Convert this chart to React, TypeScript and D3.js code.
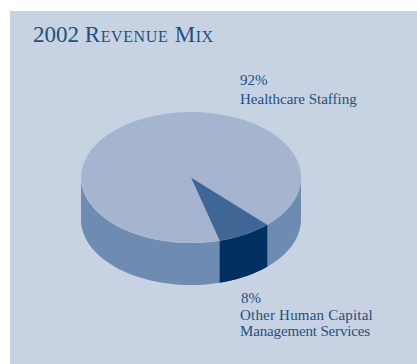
import React from "react";
import * as d3 from "d3";

const categories = ["Other Human Capital Management Services", "Healthcare Staffing"];
const shares = [8, 92];
const shareLabels = ["8%", "92%"];
const title = ["2002 ", "Revenue Mix"];
const otherLabelLines = ["Other Human Capital", "Management Services"];

const WIDTH = 417;
const HEIGHT = 364;
const CX = 191;
const CY = 177.5;
const RX = 110;
const RY = 65.5;
const DEPTH = 42;
const TEXT = "#1f5080";
const FONT = "'Liberation Serif', serif";
const SMALL_SLICE_MIDDLE = (150.5 * Math.PI) / 180;
const SMALL_SLICE_SWEEP = (shares[0] / d3.sum(shares)) * 2 * Math.PI;

// Pie layout: the small slice is placed at lower right, the rest follows clockwise.
const start = SMALL_SLICE_MIDDLE - SMALL_SLICE_SWEEP / 2;
const pieLayout = d3.pie<number>().sort(null).startAngle(start).endAngle(start + 2 * Math.PI);
const slices = pieLayout(shares);

const arcUnit = d3.arc<d3.PieArcDatum<number>>().innerRadius(0).outerRadius(1);
const px = (a: number) => CX + RX * Math.sin(a);
const py = (a: number) => CY - RY * Math.cos(a);

// Outline of the cylinder wall between two pie angles.
function wallPath(a0: number, a1: number) {
  const angles = d3.range(0, 61).map((i) => a0 + ((a1 - a0) * i) / 60);
  const line = d3.line<[number, number]>();
  const top = angles.map((a) => [px(a), py(a)] as [number, number]);
  const bottom = angles
    .slice()
    .reverse()
    .map((a) => [px(a), py(a) + DEPTH] as [number, number]);
  return line([...top, ...bottom]) + "Z";
}

export default function App() {
  const [small, large] = slices;
  return (
    <svg
      width={WIDTH}
      height={HEIGHT}
      viewBox={`0 0 ${WIDTH} ${HEIGHT}`}
      style={{ position: "absolute", left: 0, top: 0, background: "#fff" }}
    >
      <rect x={10} y={11} width={WIDTH - 10} height={HEIGHT - 11} fill="#c7d2e3" />

      <text x={33} y={41.5} fontFamily={FONT} fontSize={23} fill={TEXT}>
        {title[0]}
        <tspan style={{ fontVariant: "small-caps" }} letterSpacing={0.6}>{title[1]}</tspan>
      </text>

      {/* Cylinder wall */}
      <path d={wallPath(Math.PI / 2, (3 * Math.PI) / 2)} fill="#6e8cb2" />
      <path d={wallPath(small.startAngle, small.endAngle)} fill="#00305f" />

      {/* Top face */}
      <g transform={`translate(${CX},${CY}) scale(${RX},${RY})`}>
        <path d={arcUnit(large) ?? ""} fill="#a5b5d0" />
        <path d={arcUnit(small) ?? ""} fill="#3f6694" />
      </g>

      <g fontFamily={FONT} fontSize={15} fill={TEXT}>
        <text x={240} y={85}>{shareLabels[1]}</text>
        <text x={240} y={104}>{categories[1]}</text>
        <text x={241} y={303}>{shareLabels[0]}</text>
        <text x={240} y={320} letterSpacing={0.2}>{otherLabelLines[0]}</text>
        <text x={240} y={336} letterSpacing={-0.15}>{otherLabelLines[1]}</text>
      </g>
    </svg>
  );
}
